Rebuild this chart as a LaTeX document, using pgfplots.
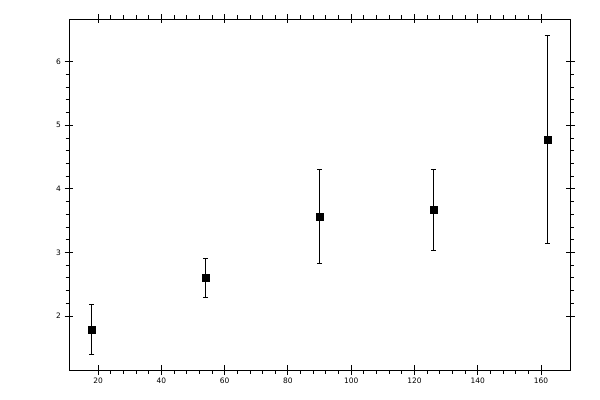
\documentclass[border=0pt]{standalone}
\usepackage{fontspec}
\setmainfont{DejaVu Sans}
\usepackage{pgfplots}
\pgfplotsset{compat=1.18}

\pgfplotsset{
  framecommon/.style={
    scale only axis,
    width=501bp, height=351bp,
    at={(69bp,30bp)}, anchor=south west,
    xmin=10.8, xmax=169.2,
    ymin=1.149, ymax=6.673,
    xtick={20,40,...,160},
    ytick={2,3,4,5,6},
    axis line style={line width=0.8bp},
    tick style={line width=0.8bp, black},
  }
}

\begin{document}
\begin{tikzpicture}
\path (0,0) rectangle (600bp,400bp);
\begin{axis}[
  framecommon,
  minor x tick num=4,
  minor y tick num=4,
  tick align=outside,
  major tick length=4.5bp,
  minor tick length=3.5bp,
  tick label style={font=\fontsize{7.5}{9}\selectfont},
  /pgf/number format/assume math mode=true,
]
  % mittelwerte mit fehlerbalken (+/-)
  \addplot[
    black, only marks,
    mark=square*, mark size=3.5bp,
    error bars/.cd,
      y dir=both, y explicit,
      error bar style={line width=0.75bp},
      error mark options={rotate=90, mark size=2.5bp, line width=0.75bp},
  ] coordinates {
    (18, 1.79)  +- (0, 0.39)
    (54, 2.596) +- (0, 0.31)
    (90, 3.565) +- (0, 0.74)
    (126,3.671) +- (0, 0.64)
    (162,4.778) +- (0, 1.644)
  };
\end{axis}
% nur die inneren haelften der hauptstriche
\begin{axis}[
  framecommon,
  axis line style={draw=none},
  tick align=inside,
  major tick length=4.5bp,
  xticklabels={}, yticklabels={},
]
\end{axis}
\end{tikzpicture}
\end{document}
